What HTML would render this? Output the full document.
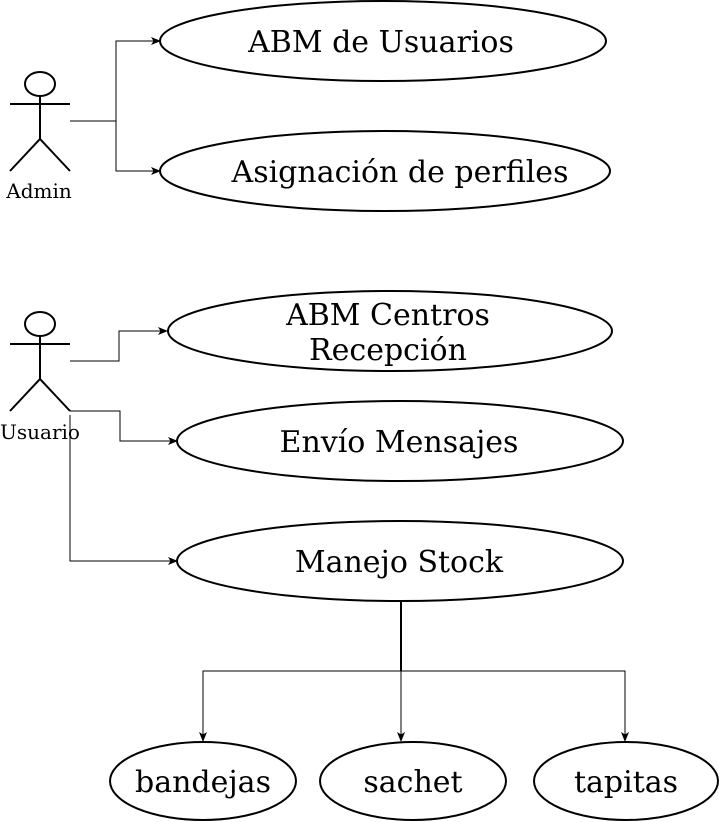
<!DOCTYPE html>
<html><head><meta charset="utf-8"><style>
html,body{margin:0;padding:0;background:#fff;}
svg{display:block;}
text{font-family:"DejaVu Serif","Liberation Serif",serif;fill:#000;}
</style></head><body>
<svg width="719" height="822" viewBox="0 0 719 822" xmlns="http://www.w3.org/2000/svg">
<defs>
<marker id="a" markerWidth="10" markerHeight="8" refX="9" refY="4" orient="auto" markerUnits="userSpaceOnUse">
<path d="M0,0 L10,4 L0,8 L2.5,4 Z" fill="#000"/>
</marker>
</defs>
<g stroke="#000" stroke-width="2" fill="none">
<ellipse cx="40" cy="84" rx="15" ry="12"/>
<line x1="10" y1="104" x2="70" y2="104"/>
<line x1="40" y1="96" x2="40" y2="139"/>
<path d="M10,171 L40,139 L70,171"/>
<ellipse cx="40" cy="324" rx="15" ry="12"/>
<line x1="10" y1="344" x2="70" y2="344"/>
<line x1="40" y1="336" x2="40" y2="379"/>
<path d="M10,411 L40,379 L70,411"/>
<ellipse cx="383" cy="41" rx="223" ry="40"/>
<ellipse cx="385" cy="171" rx="225" ry="40"/>
<ellipse cx="390" cy="331" rx="222" ry="40"/>
<ellipse cx="400" cy="441" rx="223" ry="40"/>
<ellipse cx="400" cy="561" rx="223" ry="40"/>
<ellipse cx="203" cy="781" rx="93" ry="39"/>
<ellipse cx="413" cy="781" rx="93" ry="39"/>
<ellipse cx="626" cy="781" rx="92" ry="39"/>
<line x1="401" y1="601" x2="401" y2="671"/>
</g>
<g stroke="#000" stroke-width="1" fill="none" marker-end="url(#a)">
<path d="M70,121 H116 V41 H160"/>
<path d="M116,121 V171 H160"/>
<path d="M70,361 H119 V331 H167"/>
<path d="M70,411 H120 V441 H177"/>
<path d="M70,415 V561 H177"/>
<path d="M401,671 H203 V741"/>
<path d="M401,671 V741"/>
<path d="M401,671 H625 V741"/>
</g>
<g font-size="30" text-anchor="middle">
<text x="381" y="52">ABM de Usuarios</text>
<text x="400" y="182">Asignación de perfiles</text>
<text x="388" y="325">ABM Centros</text>
<text x="388" y="360">Recepción</text>
<text x="399" y="452">Envío Mensajes</text>
<text x="399" y="572">Manejo Stock</text>
<text x="203" y="792">bandejas</text>
<text x="413" y="792">sachet</text>
<text x="626" y="792">tapitas</text>
</g>
<g font-size="20" text-anchor="middle">
<text x="39" y="198">Admin</text>
<text x="40" y="439">Usuario</text>
</g>
</svg>
</body></html>
